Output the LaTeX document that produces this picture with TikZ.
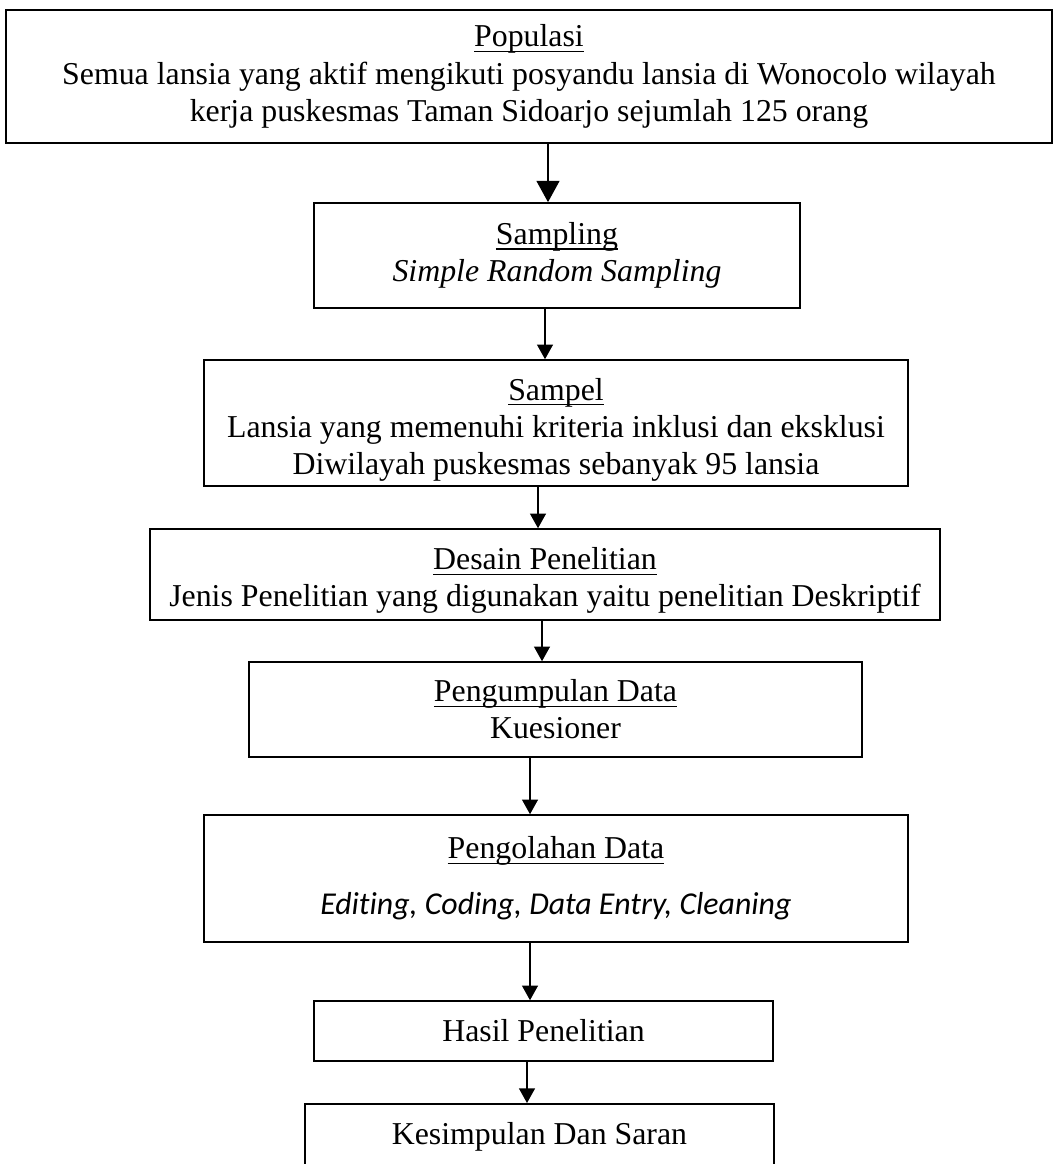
\documentclass[tikz,border=0pt]{standalone}
\usepackage{amsmath}
\usepackage{fontspec}
\setmainfont{Liberation Serif}
\newfontfamily\calibri[Ligatures=NoCommon]{Carlito}
\usetikzlibrary{arrows.meta}
\def\skala{0.377pt}
\newcommand{\judul}[1]{\underline{\smash[b]{#1}}}
\newcommand{\turun}[2]{\raisebox{0pt}[#1]{#2}}
\begin{document}
\begin{tikzpicture}[x=\skala, y=-\skala,
                        font=\fontsize{12}{14}\selectfont,
                        kotak/.style n args={2}{draw, line width=0.6pt, inner sep=0pt, align=center,
                          minimum width=#1*\skala, minimum height=#2*\skala},
                        panah/.style={-{Triangle[width=6pt,length=5.5pt]}, line width=0.5pt},
                        panahtebal/.style={-{Triangle[width=8.5pt,length=8pt]}, line width=0.9pt},
                        ]
                        \clip (0,0) rectangle (1058,1164);
                        %Kotak alur penelitian
                        \node [kotak={1046}{133}] (populasi) at (529,76.5)
                          {\judul{Populasi}\\Semua lansia yang aktif mengikuti posyandu lansia di Wonocolo wilayah\\kerja puskesmas Taman Sidoarjo sejumlah 125 orang};
                        \node [kotak={486}{105}] (sampling) at (557,255.5)
                          {\judul{Sampling}\\\textit{Simple Random Sampling}};
                        \node [kotak={704}{126}] (sampel) at (556,423)
                          {\turun{13.5pt}{\judul{Sampel}}\\Lansia yang memenuhi kriteria inklusi dan eksklusi\\Diwilayah puskesmas sebanyak 95 lansia};
                        \node [kotak={790}{91}] (desain) at (545,574.5)
                          {\turun{13pt}{\judul{Desain Penelitian}}\\Jenis Penelitian yang digunakan yaitu penelitian Deskriptif};
                        \node [kotak={613}{95}] (pengumpulan) at (555.5,709.5)
                          {\judul{Pengumpulan Data}\\Kuesioner};
                        \node [kotak={704}{127}] (pengolahan) at (556,878.5)
                          {\judul{Pengolahan Data}\\[7pt]{\calibri\itshape Editing, Coding, Data Entry, Cleaning}};
                        \node [kotak={459}{60}] (hasil) at (543.5,1031) {Hasil Penelitian};
                        \node [draw, line width=0.6pt, inner sep=0pt, anchor=north, minimum width=469*\skala,
                          text height=41*\skala, text depth=40*\skala] (kesimpulan) at (539.5,1103) {Kesimpulan Dan Saran};
                        %Panah
                        \draw [panahtebal] ([xshift=19*\skala]populasi.south) -- ([xshift=19*\skala]populasi.south |- sampling.north);
                        \draw [panah] ([xshift=-12*\skala]sampling.south) -- ([xshift=-12*\skala]sampling.south |- sampel.north);
                        \draw [panah] ([xshift=-18*\skala]sampel.south) -- ([xshift=-18*\skala]sampel.south |- desain.north);
                        \draw [panah] ([xshift=-3*\skala]desain.south) -- ([xshift=-3*\skala]desain.south |- pengumpulan.north);
                        \draw [panah] ([xshift=-25.5*\skala]pengumpulan.south) -- ([xshift=-25.5*\skala]pengumpulan.south |- pengolahan.north);
                        \draw [panah] ([xshift=-26*\skala]pengolahan.south) -- ([xshift=-26*\skala]pengolahan.south |- hasil.north);
                        \draw [panah] ([xshift=-16.5*\skala]hasil.south) -- ([xshift=-16.5*\skala]hasil.south |- kesimpulan.north);
                \end{tikzpicture}
\end{document}
